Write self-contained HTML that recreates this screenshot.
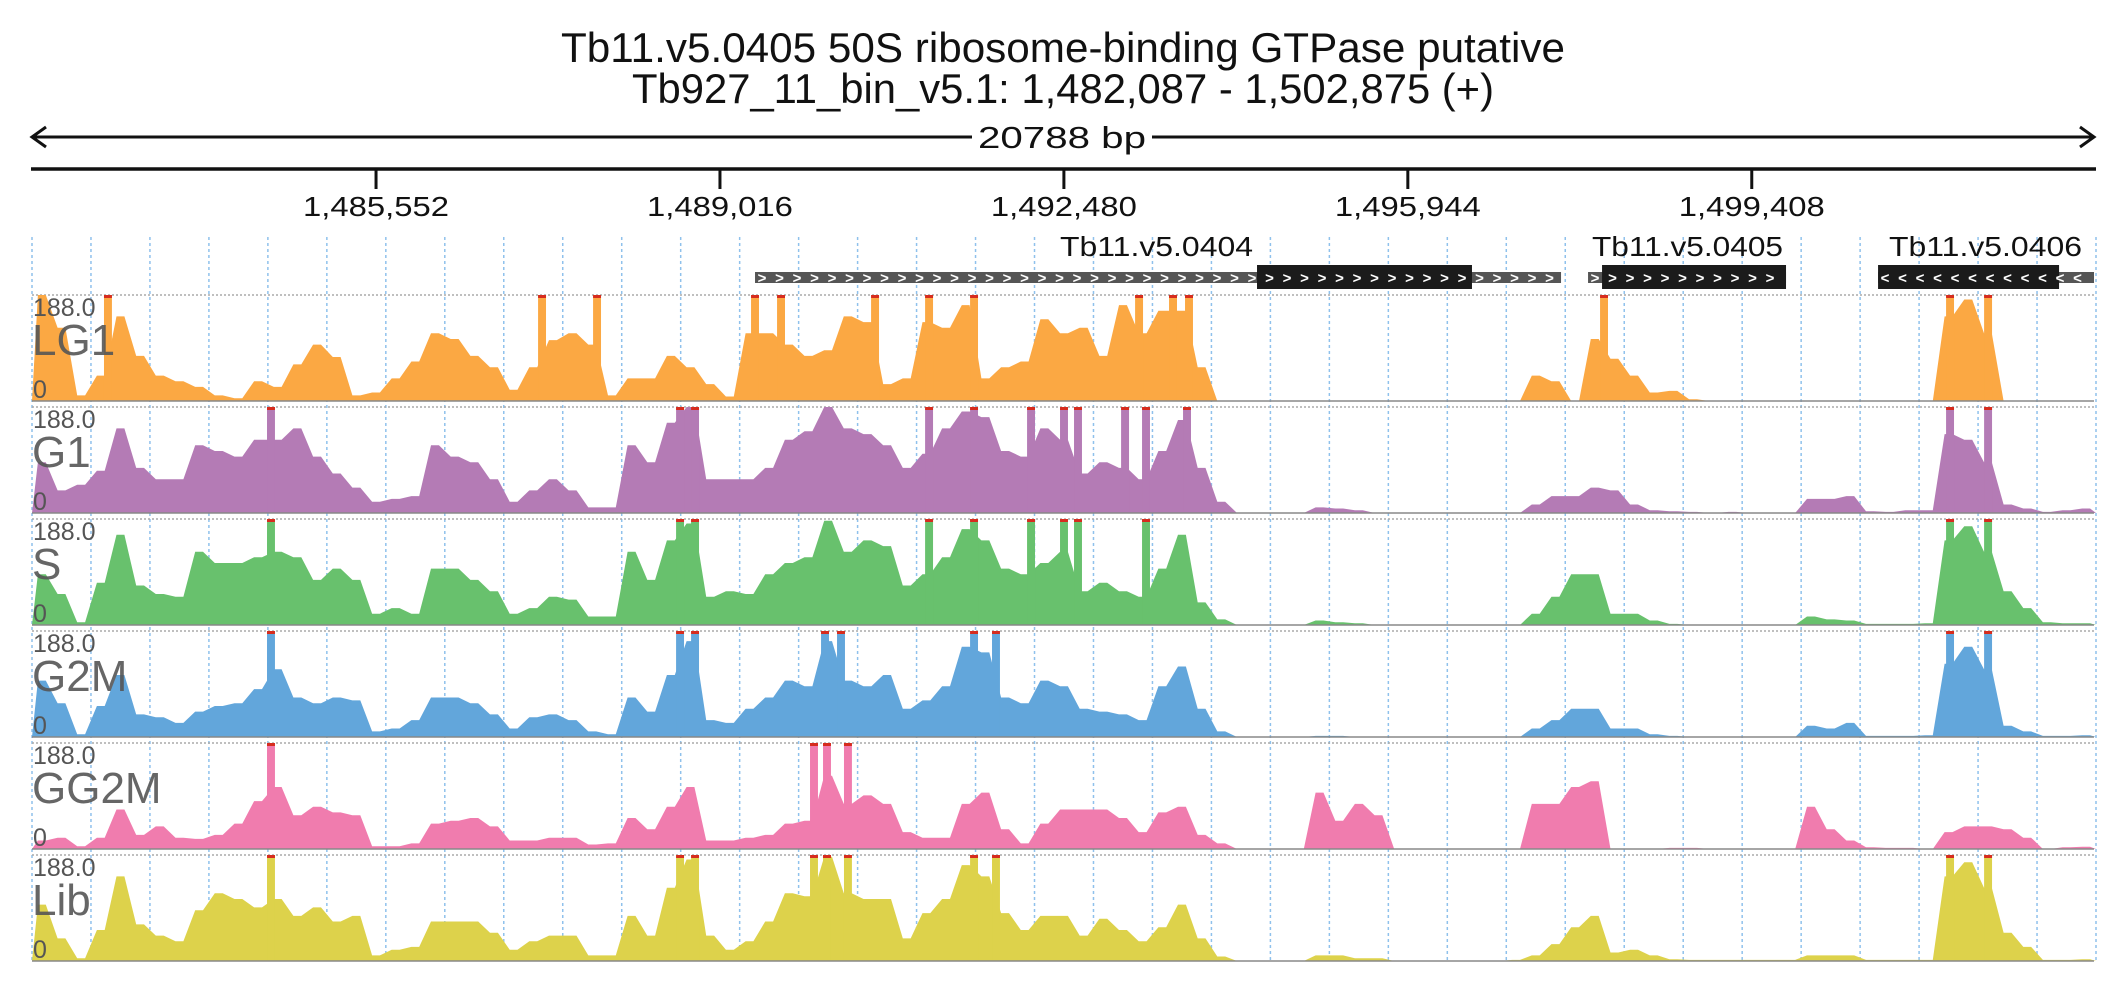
<!DOCTYPE html>
<html><head><meta charset="utf-8">
<style>
html,body{margin:0;padding:0;background:#fff;}
svg{display:block;font-family:"Liberation Sans",sans-serif;}
</style></head>
<body>
<svg id="chart" width="2126" height="1000" viewBox="0 0 2126 1000" xmlns="http://www.w3.org/2000/svg">
  <text x="1063" y="62" font-size="42" text-anchor="middle" textLength="1004" lengthAdjust="spacingAndGlyphs" fill="#111">Tb11.v5.0405  50S ribosome-binding GTPase  putative</text>
  <text x="1063" y="103" font-size="42" text-anchor="middle" textLength="862" lengthAdjust="spacingAndGlyphs" fill="#111">Tb927_11_bin_v5.1: 1,482,087 - 1,502,875 (+)</text>
  <g stroke="#111" stroke-width="3" fill="none">
    <line x1="32" y1="137" x2="2094" y2="137"/>
    <polyline points="46,127 32,137 46,147"/>
    <polyline points="2080,127 2094,137 2080,147"/>
  </g>
  <rect x="972" y="122" width="180" height="30" fill="#fff"/>
  <text x="1062" y="148" font-size="31" text-anchor="middle" textLength="168" lengthAdjust="spacingAndGlyphs" fill="#111">20788 bp</text>
  <line x1="31" y1="169" x2="2096" y2="169" stroke="#111" stroke-width="3.5"/>
  <g id="axis"></g>
  <g id="grid"></g>
  <g id="genes"></g>
  <g id="tracks"></g>
</svg>
<script>
const startBp = 1482087;
const endBp = 1502875;
const tickValues = [1485552, 1489016, 1492480, 1495944, 1499408];
const tickLabels = ["1,485,552", "1,489,016", "1,492,480", "1,495,944", "1,499,408"];
const trackNames = ["LG1", "G1", "S", "G2M", "GG2M", "Lib"];
const trackColors = ["#fba843", "#b47bb5", "#68c16d", "#62a6db", "#f07cae", "#ddd24b"];
const yMaxValue = 188;
const geneNames = ["Tb11.v5.0404", "Tb11.v5.0405", "Tb11.v5.0406"];
const geneStart = [1489369, 1497759, 1500680];
const geneEnd = [1497487, 1499753, 1502855];
const cdsStart = [1494425, 1497900, 1500680];
const cdsEnd = [1496590, 1499753, 1502503];
const geneStrand = ["+", "+", "-"];
const lg1 = [188,130,10, 45,150,80, 45,35,25, 10,5,35, 25,65,100, 78,10,15, 40,70,120, 110,80,60, 20,60,108,
 120,100,10, 40,40,80, 60,30,8, 120,120,100, 80,90,150, 140,30,40, 140,130,170, 40,60,70, 145,120,130,
 80,170,120, 160,160,60, 0,0,0, 0,0,0, 0,0,0, 0,0,0, 0,0,0, 0,45,35, 0,110,75, 45,15,18, 3,0,0,
 0,0,0, 0,0,0, 0,0,0, 0,150,180, 120,0,0, 0,0,0];
const g1 = [90,40,50, 75,150,80, 60,60,120, 110,100,130, 130,150,100, 70,45,20, 25,30,120, 100,90,60, 20,40,60,
 40,10,10, 120,90,160, 188,60,60, 60,80,130, 145,188,150, 140,120,80, 105,150,180, 170,110,100, 150,130,70,
 90,80,60, 110,165,80, 20,0,0, 0,0,10, 8,5,0, 0,0,0, 0,0,0, 0,15,30, 30,45,40, 15,5,3, 2,0,2,
 0,0,0, 25,25,30, 3,2,5, 5,140,130, 90,15,8, 2,5,8];
const sPhase = [90,55,5, 75,160,70, 55,50,130, 110,110,120, 130,120,80, 100,80,20, 30,20,100, 100,80,60, 20,30,50,
 45,15,15, 130,80,150, 180,50,60, 55,90,110, 120,185,130, 150,140,70, 90,120,170, 150,100,90, 110,130,60,
 75,60,50, 100,160,40, 10,0,0, 0,0,8, 5,3,0, 0,0,0, 0,0,0, 0,20,50, 90,90,20, 20,8,2, 0,0,0,
 0,0,0, 15,10,8, 2,2,2, 3,150,175, 130,60,30, 5,3,3];
const g2m = [100,60,5, 55,110,40, 35,25,45, 55,60,85, 120,70,60, 70,65,10, 15,30,70, 70,60,40, 15,35,40,
 30,10,5, 70,45,110, 170,30,25, 50,70,100, 90,170,100, 90,110,50, 65,90,160, 150,70,60, 100,90,50,
 45,40,30, 90,125,50, 10,0,0, 0,0,2, 2,0,0, 0,0,0, 0,0,0, 0,15,30, 50,50,15, 15,5,2, 0,0,0,
 0,0,0, 20,15,25, 2,2,2, 3,130,160, 120,20,10, 2,2,3];
const gg2m = [15,20,5, 20,70,25, 40,20,18, 25,45,85, 110,60,75, 65,60,5, 5,10,45, 50,55,40, 15,15,20,
 20,8,10, 55,35,75, 110,15,15, 20,25,45, 50,130,80, 95,80,30, 20,20,80, 100,35,10, 45,70,70,
 70,55,30, 65,75,25, 10,0,0, 0,0,100, 50,80,60, 0,0,0, 0,0,0, 0,80,80, 110,120,0, 0,0,2, 2,0,0,
 0,0,0, 75,35,15, 3,2,2, 0,30,40, 40,35,20, 0,3,4];
const lib = [100,40,5, 55,150,65, 45,35,90, 120,110,95, 110,80,95, 70,80,10, 20,25,70, 70,70,50, 20,35,45,
 45,10,10, 80,45,130, 180,45,20, 35,70,120, 115,185,120, 110,110,40, 85,110,170, 150,85,55, 80,80,45,
 75,55,35, 60,100,40, 8,0,0, 0,0,10, 10,5,5, 0,0,0, 0,0,0, 2,10,30, 60,80,15, 20,10,3, 2,2,2,
 2,2,2, 10,10,10, 2,2,2, 2,150,175, 130,50,25, 2,2,3];
const trackData = [lg1, g1, sPhase, g2m, gg2m, lib];
// narrow clipped spikes (bp positions, value >= 188)
const lg1Spikes = [1482852, 1487224, 1487778, 1489369, 1489631, 1490578, 1491122, 1491575, 1493237, 1493579, 1493740, 1497920, 1501405, 1501788];
const g1Spikes = [1484494, 1488614, 1488765, 1491122, 1491575, 1492149, 1492481, 1492622, 1493096, 1493307, 1493720, 1501405, 1501788];
const sSpikes = [1484494, 1488614, 1488765, 1491122, 1491575, 1492149, 1492481, 1492622, 1493307, 1501405, 1501788];
const g2mSpikes = [1484494, 1488614, 1488765, 1490074, 1490235, 1491575, 1491796, 1501405, 1501788];
const gg2mSpikes = [1484494, 1489963, 1490094, 1490305];
const libSpikes = [1484494, 1488614, 1488765, 1489963, 1490094, 1490305, 1491575, 1491796, 1501405, 1501788];
const trackSpikes = [lg1Spikes, g1Spikes, sSpikes, g2mSpikes, gg2mSpikes, libSpikes];
const spikeWidthBp = 80;

const NS = "http://www.w3.org/2000/svg";
const X0 = 32, X1 = 2096;
function xScale(bp){ return X0 + (bp - startBp) * (X1 - X0) / (endBp - startBp); }
const TRACK_TOP = 295, TRACK_STEP = 112, TRACK_H = 106;
function yScale(v, k){ const base = TRACK_TOP + k*TRACK_STEP + TRACK_H; return base - Math.min(v, yMaxValue)/yMaxValue*TRACK_H; }
function mk(tag, attrs, parent){ const e = document.createElementNS(NS, tag); for (const a in attrs) e.setAttribute(a, attrs[a]); parent.appendChild(e); return e; }

const axis = document.getElementById('axis');
tickValues.forEach((t, i) => {
  const x = xScale(t);
  const tk = mk('line', {x1:x, y1:169, x2:x, y2:189, stroke:'#111', 'stroke-width':3}, axis);
  
  
  const lb = mk('text', {x:x, y:216, 'font-size':28, 'text-anchor':'middle', fill:'#111', textLength:146, lengthAdjust:'spacingAndGlyphs'}, axis);
  lb.textContent = tickLabels[i];
  
  
});

const grid = document.getElementById('grid');
const nGrid = 35;
for (let i = 0; i <= nGrid; i++) {
  const x = xScale(startBp + i*(endBp-startBp)/nGrid);
  const gl = mk('line', {x1:x, y1:237, x2:x, y2:962, stroke:'#8fc1ec', 'stroke-width':1.5, 'stroke-dasharray':'3,3'}, grid);
  
  
}

const genes = document.getElementById('genes');
const labelRight = [1253, 1783, 2082];
const labelWidth = [193, 191, 193];
geneNames.forEach((g, i) => {
  const grp = mk('g', {}, genes);
  
  
  const gx0 = xScale(geneStart[i]), gx1 = xScale(geneEnd[i]);
  const cx0 = xScale(cdsStart[i]), cx1 = xScale(cdsEnd[i]);
  mk('rect', {x:gx0, y:272, width:gx1-gx0, height:11, fill:'#555'}, grp);
  mk('rect', {x:cx0, y:265, width:cx1-cx0, height:24, fill:'#1b1b1b'}, grp);
  const ch = geneStrand[i] === '+' ? '>' : '<';
  for (let x = gx0 + 7; x < gx1 - 6; x += 17.5) {
    const t = mk('text', {x:x, y:283, 'font-size':15, fill:'#fff', 'text-anchor':'middle', 'font-weight':'bold'}, grp);
    t.textContent = ch;
  }
  const lb = mk('text', {x:labelRight[i]-labelWidth[i], y:256, 'font-size':28, fill:'#111', textLength:labelWidth[i], lengthAdjust:'spacingAndGlyphs'}, grp);
  lb.textContent = g;
  
  
});

const tracks = document.getElementById('tracks');
const nBins = 105;
const binBp = (endBp - startBp) / nBins;
trackNames.forEach((name, k) => {
  const data = trackData[k];
  const g = mk('g', {}, tracks);
  
  
  const top = TRACK_TOP + k*TRACK_STEP, base = top + TRACK_H;
  mk('line', {x1:X0, y1:top, x2:X1-2, y2:top, stroke:'#aaa', 'stroke-width':1.5, 'stroke-dasharray':'2,2'}, g);
  let d = 'M' + xScale(startBp) + ',' + base;
  data.forEach((v, i) => {
    const xa = xScale(startBp + i*binBp), xb = xScale(startBp + (i+1)*binBp);
    const y = yScale(v, k);
    d += ' L' + (xa + (xb-xa)*0.3).toFixed(1) + ',' + y.toFixed(1) + ' L' + (xa + (xb-xa)*0.7).toFixed(1) + ',' + y.toFixed(1);
  });
  d += ' L' + xScale(endBp) + ',' + base + ' Z';
  const area = mk('path', {d:d, fill:trackColors[k]}, g);
  
  
  trackSpikes[k].forEach(bp => {
    const xa = xScale(bp - spikeWidthBp/2), xb = xScale(bp + spikeWidthBp/2);
    const sp = mk('rect', {x:xa, y:yScale(yMaxValue, k), width:xb-xa, height:TRACK_H, fill:trackColors[k]}, g);
    
    
    const cm = mk('rect', {x:xa, y:top, width:xb-xa, height:3, fill:'#d62c1e'}, g);
    
    
  });
  mk('line', {x1:X0, y1:base, x2:X1-2, y2:base, stroke:'#888', 'stroke-width':1.5}, g);
  const mx = mk('text', {x:33, y:top+21, 'font-size':25, fill:'#555'}, g);
  mx.textContent = yMaxValue.toFixed(1);
  
  
  const nm = mk('text', {x:32, y:top+60, 'font-size':44, fill:'#555', 'fill-opacity':0.9}, g);
  nm.textContent = name;
  
  
  const zr = mk('text', {x:33, y:base-3, 'font-size':25, fill:'#555'}, g);
  zr.textContent = '0';
  
  
});
</script>
</body></html>
